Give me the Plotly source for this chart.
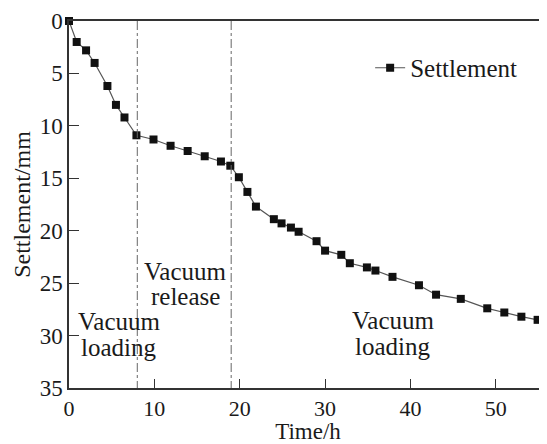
import plotly.graph_objects as go

time_h = [0, 0.9, 2.0, 3.0, 4.5, 5.5, 6.5, 7.9, 9.9, 11.9, 13.9, 15.9, 17.8, 18.9,
          19.9, 20.9, 21.9, 24.0, 24.9, 26.0, 26.9, 29.0, 30.0, 31.9, 32.9, 34.9,
          35.9, 37.9, 41.0, 43.0, 45.9, 49.0, 51.0, 53.0, 54.9]
settlement_mm = [0, 2.0, 2.8, 4.0, 6.2, 8.0, 9.2, 10.9, 11.3, 11.9, 12.4, 12.9, 13.4, 13.8,
                 14.9, 16.3, 17.7, 18.9, 19.3, 19.7, 20.1, 21.0, 21.9, 22.3, 23.1, 23.5,
                 23.8, 24.4, 25.2, 26.1, 26.5, 27.4, 27.8, 28.2, 28.5]
stage_bounds = [8, 19]
stage_lines = [["Vacuum", "loading"], ["Vacuum", "release"], ["Vacuum", "loading"]]
stage_label_x = [5.8, 13.6, 37.9]
stage_label_y = [[28.7, 31.1], [23.9, 26.3], [28.6, 31.0]]
x_ticks = [0, 10, 20, 30, 40, 50]
y_ticks = [0, 5, 10, 15, 20, 25, 30, 35]

FONT = "Liberation Serif"
TXT = "#1a1a1a"

fig = go.Figure()
fig.add_trace(go.Scatter(
    x=time_h, y=settlement_mm, mode="lines+markers", name="Settlement",
    line=dict(color="#555555", width=1.2),
    marker=dict(symbol="square", size=8, color="#111111"),
    cliponaxis=False,
))

for b in stage_bounds:
    fig.add_shape(type="line", x0=b, x1=b, y0=0, y1=35, xref="x", yref="y",
                  line=dict(color="#666666", width=1, dash="dashdot"))

for lines, xx, ys in zip(stage_lines, stage_label_x, stage_label_y):
    for t, yy in zip(lines, ys):
        fig.add_annotation(x=xx, y=yy, text=t, showarrow=False, xref="x", yref="y",
                           font=dict(family=FONT, size=25, color=TXT), align="center")

# page adds an 8px body margin, so the figure is sized to fill the rest of the window
fig.update_layout(
    width=539, height=436,
    margin=dict(l=61, r=0, t=13, b=56),
    paper_bgcolor="white", plot_bgcolor="white",
    font=dict(family=FONT, size=23, color=TXT),
    showlegend=True,
    legend=dict(x=0.63, y=0.872, xanchor="left", yanchor="middle",
                bgcolor="rgba(0,0,0,0)", font=dict(family=FONT, size=25, color=TXT),
                itemwidth=30),
)
fig.update_xaxes(range=[0, 56], tickvals=x_ticks, ticks="inside", ticklen=9,
                 showline=True, linecolor="#333333", linewidth=1.5, mirror=True,
                 showgrid=False, zeroline=False, tickcolor="#333333", automargin=False,
                 title=dict(text="Time/h", standoff=3, font=dict(size=23)),
                 tickfont=dict(size=22))
fig.update_yaxes(range=[35, 0], tickvals=y_ticks, ticks="inside", ticklen=10,
                 showline=True, linecolor="#333333", linewidth=1.5, mirror=True,
                 showgrid=False, zeroline=False, tickcolor="#333333", automargin=False,
                 title=dict(text="Settlement/mm", standoff=2, font=dict(size=24)),
                 tickfont=dict(size=23))

fig.write_html("out.html")
